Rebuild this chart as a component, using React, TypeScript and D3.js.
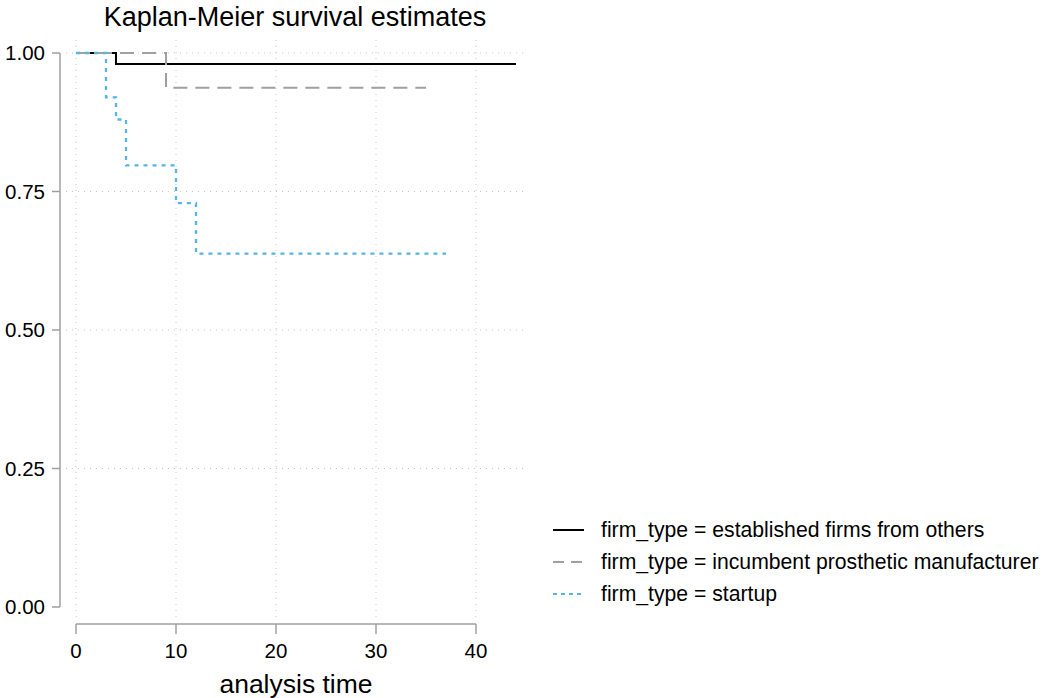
import React from 'react';
import * as d3 from 'd3';

// Kaplan-Meier steps: [time, survival]
const established = [[0, 1], [4, 0.98], [44, 0.98]];
const incumbent = [[0, 1], [9, 0.9375], [35, 0.9375]];
const startup = [[0, 1], [3, 0.92], [4, 0.88], [5, 0.797], [10, 0.729], [12, 0.638], [37, 0.638]];

const seriesNames = [
  'firm_type = established firms from others',
  'firm_type = incumbent prosthetic manufacturer',
  'firm_type = startup',
];
const xTicks = [0, 10, 20, 30, 40];
const yTicks = [0, 0.25, 0.5, 0.75, 1];

const font = '"Liberation Sans", Arial, Helvetica, sans-serif';

export default function App() {
  const width = 1042;
  const height = 698;

  const x = d3.scaleLinear().domain([0, 40]).range([76, 476]);
  const y = d3.scaleLinear().domain([0, 1]).range([607, 53]);

  const line = d3.line<number[]>()
    .x(d => x(d[0]))
    .y(d => y(d[1]))
    .curve(d3.curveStepAfter);

  const styles = [
    { stroke: '#000000', dash: 'none', legendDash: 'none' },
    { stroke: '#a0a0a0', dash: '14 8', legendDash: '11 7' },
    { stroke: '#56b4e9', dash: '4 5', legendDash: '4 4' },
  ];
  const data = [established, incumbent, startup];

  return (
    <svg width={width} height={height} style={{ position: 'absolute', left: 0, top: 0, background: '#fff' }}>
      {/* grid */}
      {xTicks.map(t => (
        <line key={'gx' + t} x1={x(t)} x2={x(t)} y1={40} y2={620}
          stroke="#c8c8c8" strokeWidth={1} strokeDasharray="1 5" />
      ))}
      {yTicks.filter(t => t > 0).map(t => (
        <line key={'gy' + t} x1={66} x2={527} y1={y(t)} y2={y(t)}
          stroke="#c8c8c8" strokeWidth={1} strokeDasharray="1 5" />
      ))}

      {/* y axis */}
      <line x1={60} x2={60} y1={y(1)} y2={y(0)} stroke="#a0a0a0" strokeWidth={1.5} />
      {yTicks.map(t => (
        <g key={'yt' + t}>
          <line x1={52} x2={60} y1={y(t)} y2={y(t)} stroke="#a0a0a0" strokeWidth={1.5} />
          <text x={45} y={y(t)} dy="0.35em" textAnchor="end" fontFamily={font} fontSize={20.5} fill="#000">
            {d3.format('.2f')(t)}
          </text>
        </g>
      ))}

      {/* x axis */}
      <line x1={x(0)} x2={x(40)} y1={624} y2={624} stroke="#a0a0a0" strokeWidth={1.5} />
      {xTicks.map(t => (
        <g key={'xt' + t}>
          <line x1={x(t)} x2={x(t)} y1={624} y2={634} stroke="#a0a0a0" strokeWidth={1.5} />
          <text x={x(t)} y={658} textAnchor="middle" fontFamily={font} fontSize={20.5} fill="#000">{t}</text>
        </g>
      ))}
      <text x={296} y={693} textAnchor="middle" fontFamily={font} fontSize={26.5} fill="#000">analysis time</text>

      {/* title */}
      <text x={295} y={26} textAnchor="middle" fontFamily={font} fontSize={27} fill="#000">Kaplan-Meier survival estimates</text>

      {/* curves */}
      {data.map((d, i) => (
        <path key={'s' + i} d={line(d) || ''} fill="none" stroke={styles[i].stroke}
          strokeWidth={i === 2 ? 2.3 : 2} strokeDasharray={styles[i].dash} />
      ))}

      {/* legend */}
      {seriesNames.map((name, i) => (
        <g key={'lg' + i} transform={`translate(553, ${530 + i * 32})`}>
          <line x1={0} x2={31} y1={0} y2={0} stroke={styles[i].stroke} strokeWidth={2}
            strokeDasharray={styles[i].legendDash} />
          <text x={48} y={0} dy="0.35em" fontFamily={font} fontSize={21.2} fill="#000">{name}</text>
        </g>
      ))}
    </svg>
  );
}
